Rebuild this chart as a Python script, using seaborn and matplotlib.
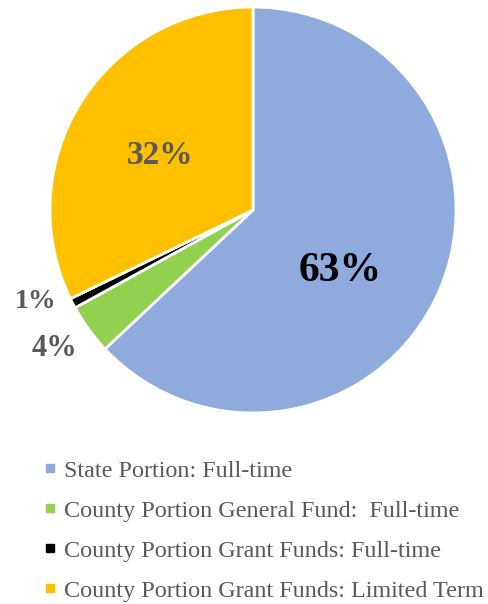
import numpy as np
import seaborn as sns
import matplotlib.pyplot as plt
from matplotlib.lines import Line2D

categories = ['State Portion: Full-time',
              'County Portion General Fund:  Full-time',
              'County Portion Grant Funds: Full-time',
              'County Portion Grant Funds: Limited Term']
values = [63, 4, 0.8, 32.2]
colors = ['#8FAADC', '#92D050', '#000000', '#FFC000']
labels = ['63%', '4%', '1%', '32%']

sns.set_theme(style='white')
plt.rcParams['font.family'] = ['Liberation Serif', 'DejaVu Serif']

W, H = 489, 604
fig = plt.figure(figsize=(W / 100, H / 100), dpi=100)
cx, cy, r = 253, 210, 203
ax = fig.add_axes([(cx - r) / W, (H - cy - r) / H, 2 * r / W, 2 * r / H])

wedges, _ = ax.pie(values, colors=colors, startangle=90, counterclock=False,
                   wedgeprops={'edgecolor': 'white', 'linewidth': 2})
ax.set_xlim(-1, 1)
ax.set_ylim(-1, 1)
ax.set_aspect('equal')

# label spots (radius units), sizes and colours
label_pos = [(0.43, -0.30), (-0.98, -0.68), (-1.07, -0.45), (-0.46, 0.27)]
label_size = [30, 22, 20, 24]
label_col = ['black', '#595959', '#595959', '#595959']
for lab, (x, y), s, c in zip(labels, label_pos, label_size, label_col):
    ax.text(x, y, lab, ha='center', va='center', fontsize=s,
            fontweight='bold', color=c)

handles = [Line2D([], [], marker='s', linestyle='none', markersize=6,
                  markerfacecolor=c, markeredgecolor=c) for c in colors]
leg = fig.legend(handles, categories, loc='upper left',
                 bbox_to_anchor=(34 / W, 1 - 450 / H), frameon=False,
                 fontsize=17.4, handlelength=0.5, handletextpad=0.35,
                 labelspacing=0.75, borderaxespad=0)
for t in leg.get_texts():
    t.set_color('#595959')

plt.savefig('out.png', dpi=100)
